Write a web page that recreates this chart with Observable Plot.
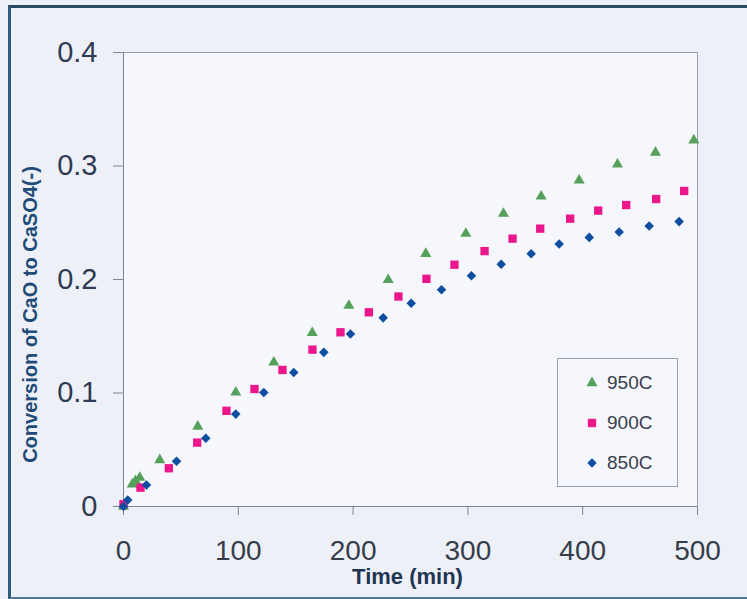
<!DOCTYPE html>
<html>
<head>
<meta charset="utf-8">
<script src="https://cdn.jsdelivr.net/npm/d3@7"></script>
<script src="https://cdn.jsdelivr.net/npm/@observablehq/plot@0.6"></script>
<style>
  html, body { margin: 0; padding: 0; background: #eef0f8; overflow: hidden; }
  #wrap { position: relative; width: 747px; height: 599px; background: #eef0f8; font-family: "Liberation Sans", Arial, sans-serif; }
  #border { position: absolute; left: 8px; top: 5px; width: 760px; height: 589px;
            border-top: 3px solid #2b4a63; border-left: 3px solid #2e5b7c; border-bottom: 2px solid #4d7896; }
  #chart { position: absolute; left: 0; top: 0; }
  #legend { position: absolute; left: 557px; top: 358px; width: 119px; height: 127px;
            border: 1px solid #9a9ea8; background: #f6f7fc; }
  .item { position: absolute; left: 0; height: 24px; display: flex; align-items: center; }
  .item svg { position: absolute; left: 26px; top: 4px; }
  .item span { position: absolute; left: 49px; top: 0; font-size: 19px; line-height: 24px; color: #363e4b; white-space: nowrap; }
</style>
</head>
<body>
<div id="wrap">
  <div id="border"></div>
  <div id="chart"></div>
  <div id="legend"></div>
</div>
<script>
// ---- data ----
const seriesNames = ["950C", "900C", "850C"];
const seriesColors = ["#55a05a", "#ec168c", "#0d4ea0"];
const seriesSymbols = ["triangle", "square", "diamond2"];

const time950 = [0, 7.6, 10.5, 14.2, 31.6, 64.7, 97.8, 130.9, 164.4, 196.3, 230.6, 263.3, 298.2, 331, 363.8, 396.9, 430.3, 463.4, 496.8];
const conv950 = [0, 0.0196, 0.0225, 0.0254, 0.041, 0.0705, 0.1005, 0.127, 0.153, 0.177, 0.1997, 0.2227, 0.2404, 0.258, 0.2733, 0.2874, 0.3015, 0.3119, 0.3227];

const time900 = [0, 14.8, 39.5, 64.2, 89.7, 114.1, 138.5, 164.6, 189, 213.7, 239.5, 263.9, 288.3, 314.5, 338.9, 363, 389.1, 413.5, 437.9, 464, 488.4];
const conv900 = [0.002, 0.0166, 0.0337, 0.0563, 0.0843, 0.1035, 0.1203, 0.1382, 0.1535, 0.1711, 0.185, 0.2006, 0.213, 0.225, 0.236, 0.2448, 0.2536, 0.2607, 0.2656, 0.2709, 0.278];

const time850 = [0, 3.7, 20, 46.2, 71.7, 97.8, 122.2, 148.3, 174.5, 197.7, 226.2, 250.6, 277, 303.1, 329, 355.1, 379.5, 405.7, 431.8, 457.9, 484];
const conv850 = [0, 0.0057, 0.019, 0.0399, 0.0602, 0.0814, 0.1005, 0.1181, 0.1358, 0.152, 0.1662, 0.1791, 0.1909, 0.2033, 0.2135, 0.2227, 0.2312, 0.2371, 0.2418, 0.2471, 0.251];

const xTicks = [0, 100, 200, 300, 400, 500];
const yTicks = [0, 0.1, 0.2, 0.3, 0.4];
const xLabel = "Time (min)";
const yLabel = "Conversion of CaO to CaSO4(-)";

// ---- build table ----
const times = [time950, time900, time850];
const convs = [conv950, conv900, conv850];
const symbolR = [4.1, 4.7, 4.3];

const dotMarks = seriesNames.map((name, i) => {
  const rows = times[i].map((t, j) => ({series: name, time: t, conv: convs[i][j]}));
  return Plot.dot(rows, {
    x: "time", y: "conv", symbol: () => seriesSymbols[i],
    fill: seriesColors[i], stroke: "none", r: symbolR[i]
  });
});

const chart = Plot.plot({
  width: 747,
  height: 599,
  marginLeft: 123,
  marginRight: 50,
  marginTop: 52,
  marginBottom: 93,
  style: { background: "transparent", fontFamily: "'Liberation Sans', Arial, sans-serif", fontSize: "30px", color: "#363e4b" },
  x: { domain: [0, 500] },
  y: { domain: [0, 0.4] },
  symbol: { type: "identity" },
  marks: [
    Plot.frame({ fill: "#f6f7fc", stroke: "#9a9ea8" }),
    Plot.axisX({ ticks: xTicks, tickSize: 9, tickPadding: 25, tickFormat: d => String(d), label: null, stroke: "#7f848f", fill: "#363e4b", fontSize: 28 }),
    Plot.axisY({ ticks: yTicks, tickSize: 10, tickPadding: 16, tickFormat: d => d === 0 ? "0" : d.toFixed(1), label: null, stroke: "#7f848f", fill: "#2f3b52", fontSize: 29 }),
    Plot.ruleX([0], { stroke: "#7f848f" }),
    Plot.ruleY([0], { stroke: "#7f848f" }),
    ...dotMarks,
    Plot.text([xLabel], { text: d => d, frameAnchor: "bottom", dx: -3, dy: 77, fontWeight: "bold", fontSize: 22, fill: "#1f3452" }),
    Plot.text([yLabel], { text: d => d, frameAnchor: "left", textAnchor: "middle", rotate: -90, dx: -93, dy: 35, fontWeight: "bold", fontSize: 20, fill: "#1e4b78" })
  ]
});
document.getElementById("chart").appendChild(chart);

// ---- legend ----
const legend = document.getElementById("legend");
const rowTops = [12, 52, 92];
const symPaths = [
  d3.symbol(d3.symbolTriangle, Math.PI * 4.1 * 4.1)(),
  d3.symbol(d3.symbolSquare, Math.PI * 4.7 * 4.7)(),
  d3.symbol(d3.symbolDiamond2, Math.PI * 4.3 * 4.3)()
];
seriesNames.forEach((name, i) => {
  const item = document.createElement("div");
  item.className = "item";
  item.style.top = rowTops[i] + "px";
  item.innerHTML = `<svg width="16" height="16" viewBox="-8 -8 16 16"><path d="${symPaths[i]}" fill="${seriesColors[i]}"/></svg><span>${name}</span>`;
  legend.appendChild(item);
});
</script>
</body>
</html>
